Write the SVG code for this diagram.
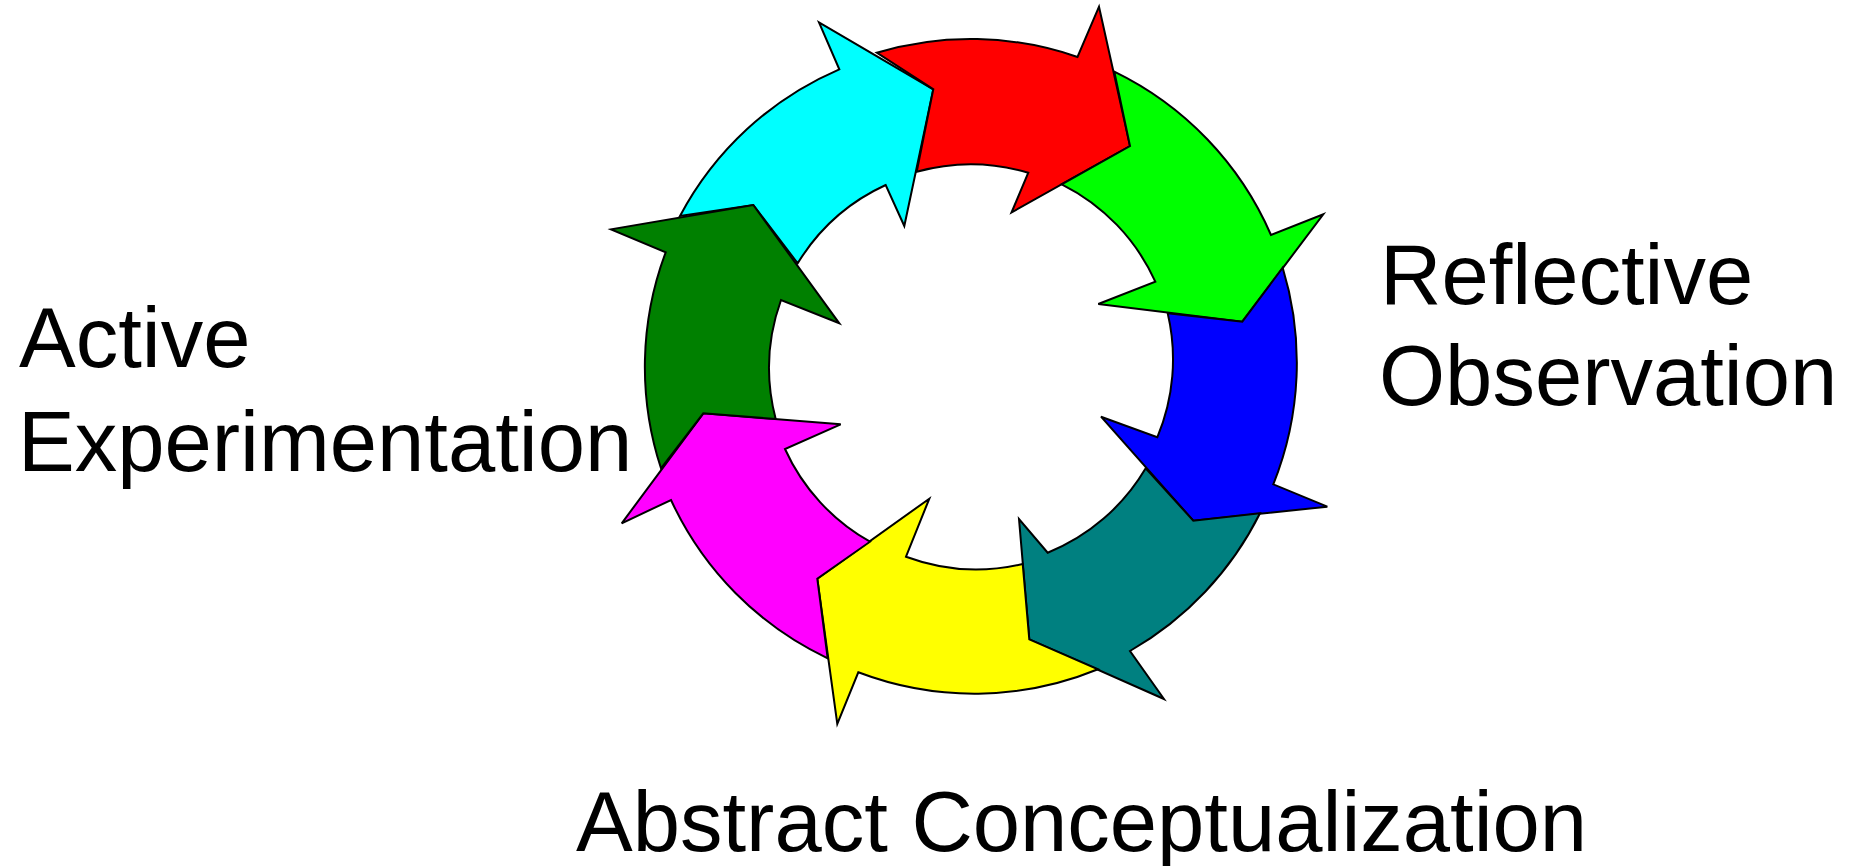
<svg xmlns="http://www.w3.org/2000/svg" width="1855" height="866" viewBox="0 0 1855 866">
<style>
.arr{stroke:#000;stroke-width:2;stroke-linejoin:miter}
.lbl{font-family:"Liberation Sans",Arial,sans-serif;font-size:85px;fill:#000}
</style>
<rect width="1855" height="866" fill="#fff"/>
<g id="cycle">
<g id="arrow-cyan"><path class="arr" fill="#00FFFF" d="M 680 216 A 326 326 0 0 1 839.3 69.3 L 819 22.3 L 933.3 89.3 L 904.3 226 L 885.7 185 A 201.5 201.5 0 0 0 797.7 263.3 L 753.3 205 Z"/></g>
<g id="arrow-red"><path class="arr" fill="#FF0000" d="M 876.7 52.7 A 326 326 0 0 1 1077.5 57 L 1099 6.7 L 1130 146 L 1011.5 212.5 L 1028.3 172.7 A 201.5 201.5 0 0 0 916.7 171.7 L 933.3 89.3 Z"/></g>
<g id="arrow-green"><path class="arr" fill="#00FF00" d="M 1114.3 71.7 A 326 326 0 0 1 1271 235 L 1323.3 214.3 L 1242.3 321.7 L 1098.3 304 L 1155.3 281.7 A 201.5 201.5 0 0 0 1061.7 184.3 L 1130 146 Z"/></g>
<g id="arrow-blue"><path class="arr" fill="#0000FF" d="M 1282.7 267.7 A 326 326 0 0 1 1273.3 484.3 L 1327.3 506.7 L 1193.3 520.7 L 1101 416.7 L 1157.3 437.3 A 201.5 201.5 0 0 0 1167.7 313.3 L 1242.3 321.7 Z"/></g>
<g id="arrow-teal"><path class="arr" fill="#008080" d="M 1260 513.3 A 326 326 0 0 1 1130 651 L 1164 699 L 1029.3 639.3 L 1019 519 L 1047.7 552.7 A 201.5 201.5 0 0 0 1145.7 468.3 L 1193.3 520.7 Z"/></g>
<g id="arrow-yellow"><path class="arr" fill="#FFFF00" d="M 1098 669.3 A 326 326 0 0 1 858.3 672.3 L 837.3 724 L 817.3 578.7 L 929.3 498.7 L 906 556.7 A 201.5 201.5 0 0 0 1022.7 564 L 1029.3 639.3 Z"/></g>
<g id="arrow-magenta"><path class="arr" fill="#FF00FF" d="M 827.7 658.3 A 326 326 0 0 1 671 500 L 621.7 523.3 L 703.3 413.3 L 840.7 424.3 L 785 449 A 201.5 201.5 0 0 0 870 541.7 L 817.3 578.7 Z"/></g>
<g id="arrow-darkgreen"><path class="arr" fill="#008000" d="M 661 468.3 A 326 326 0 0 1 665.7 252.3 L 611 229.3 L 753.3 205 L 839.3 323.3 L 781 300 A 201.5 201.5 0 0 0 775.7 419 L 703.3 413.3 Z"/></g>
</g>
<g id="connectors"></g>
<g id="label-active-experimentation">
<text class="lbl" x="19" y="367">Active</text>
<text class="lbl" x="18" y="471">Experimentation</text>
</g>
<g id="label-reflective-observation">
<text class="lbl" x="1380" y="304">Reflective</text>
<text class="lbl" x="1379" y="405">Observation</text>
</g>
<g id="label-abstract-conceptualization">
<text class="lbl" x="576" y="851">Abstract Conceptualization</text>
</g>
</svg>
